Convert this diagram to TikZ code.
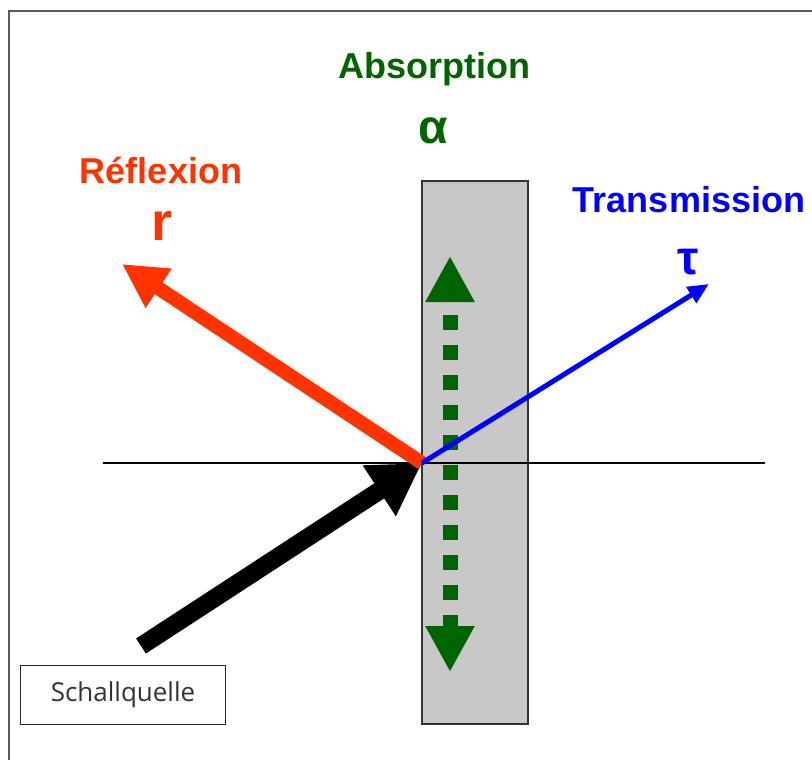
\documentclass[tikz,border=0pt]{standalone}
\usepackage{fontspec}
\setmainfont{Liberation Sans}
\newfontfamily\quellefont{Open Sans}
\usetikzlibrary{arrows.meta,positioning,calc}
\definecolor{AbsGreen}{HTML}{006400}
\definecolor{RefRed}{HTML}{FF3300}
\definecolor{TransBlue}{HTML}{0000FF}
\definecolor{PlateGray}{HTML}{C8C8C8}
\definecolor{FrameGray}{HTML}{5A5A5A}

\begin{document}
\begin{tikzpicture}[x=1pt,y=-1pt,
    wordlabel/.style={font=\bfseries\fontsize{36}{40}\selectfont,anchor=base,inner sep=0pt},
    symb/.style={font=\bfseries\fontsize{48}{50}\selectfont,anchor=base,inner sep=0pt}]
  \useasboundingbox (0,0) rectangle (812,760);
  \clip (0,0) rectangle (812,760);
  % Rahmen
  \draw[FrameGray,line width=2pt] (9,780) -- (9,11) -- (830,11);
  % Platte
  \node[draw=black!80,fill=PlateGray,line width=2pt,minimum width=106,minimum height=543,inner sep=0pt]
    (plate) at (475,452.5) {};
  \coordinate (hit) at (422,463);
  \coordinate (nleft) at (103,463);
  \coordinate (nright) at (765,463);
  \coordinate (src) at (141,646);
  \coordinate (rend) at (122,264);
  \coordinate (tend) at (709,284);
  \coordinate (gtop) at (450,256);
  \coordinate (gbot) at (450,672);
  \draw[line width=1.8pt] (nleft) -- (nright);
  % Absorption
  \draw[AbsGreen,line width=15pt,dash pattern=on 15pt off 15pt,dash phase=14pt,
    {Triangle[length=46pt,width=46pt]}-{Triangle[length=46pt,width=46pt]}] (gtop) -- (gbot);
  % einfallend, reflektiert, transmittiert
  \draw[line width=18pt,-{Triangle[length=51pt,width=57pt]}] (src) -- (hit);
  \draw[RefRed,line width=14pt,-{Triangle[length=44pt,width=44pt]}] (hit) -- (rend);
  \draw[TransBlue,line width=5pt,-{Triangle[length=21pt,width=18pt]}] (hit) -- (tend);
  % Beschriftung
  \node[wordlabel,text=AbsGreen] (absorption) at (434,78) {Absorption};
  \node[symb,text=AbsGreen] (alpha) at (433,143) {α};
  \node[wordlabel,text=RefRed] (reflexion) at (161,183) {Réflexion};
  \node[symb,text=RefRed,font=\bfseries\fontsize{54}{56}\selectfont] (rsym) at (162,240) {r};
  \node[wordlabel,text=TransBlue] (transmission) at (689,212) {Transmission};
  \node[symb,text=TransBlue] (tau) at (688,274) {τ};
  \node[draw=black!85,line width=1pt,minimum width=205,minimum height=59,text=black!80,
    font=\quellefont\fontsize{26}{30}\selectfont] (quelle) at (123,694.5) {Schallquelle};
\end{tikzpicture}
\end{document}
